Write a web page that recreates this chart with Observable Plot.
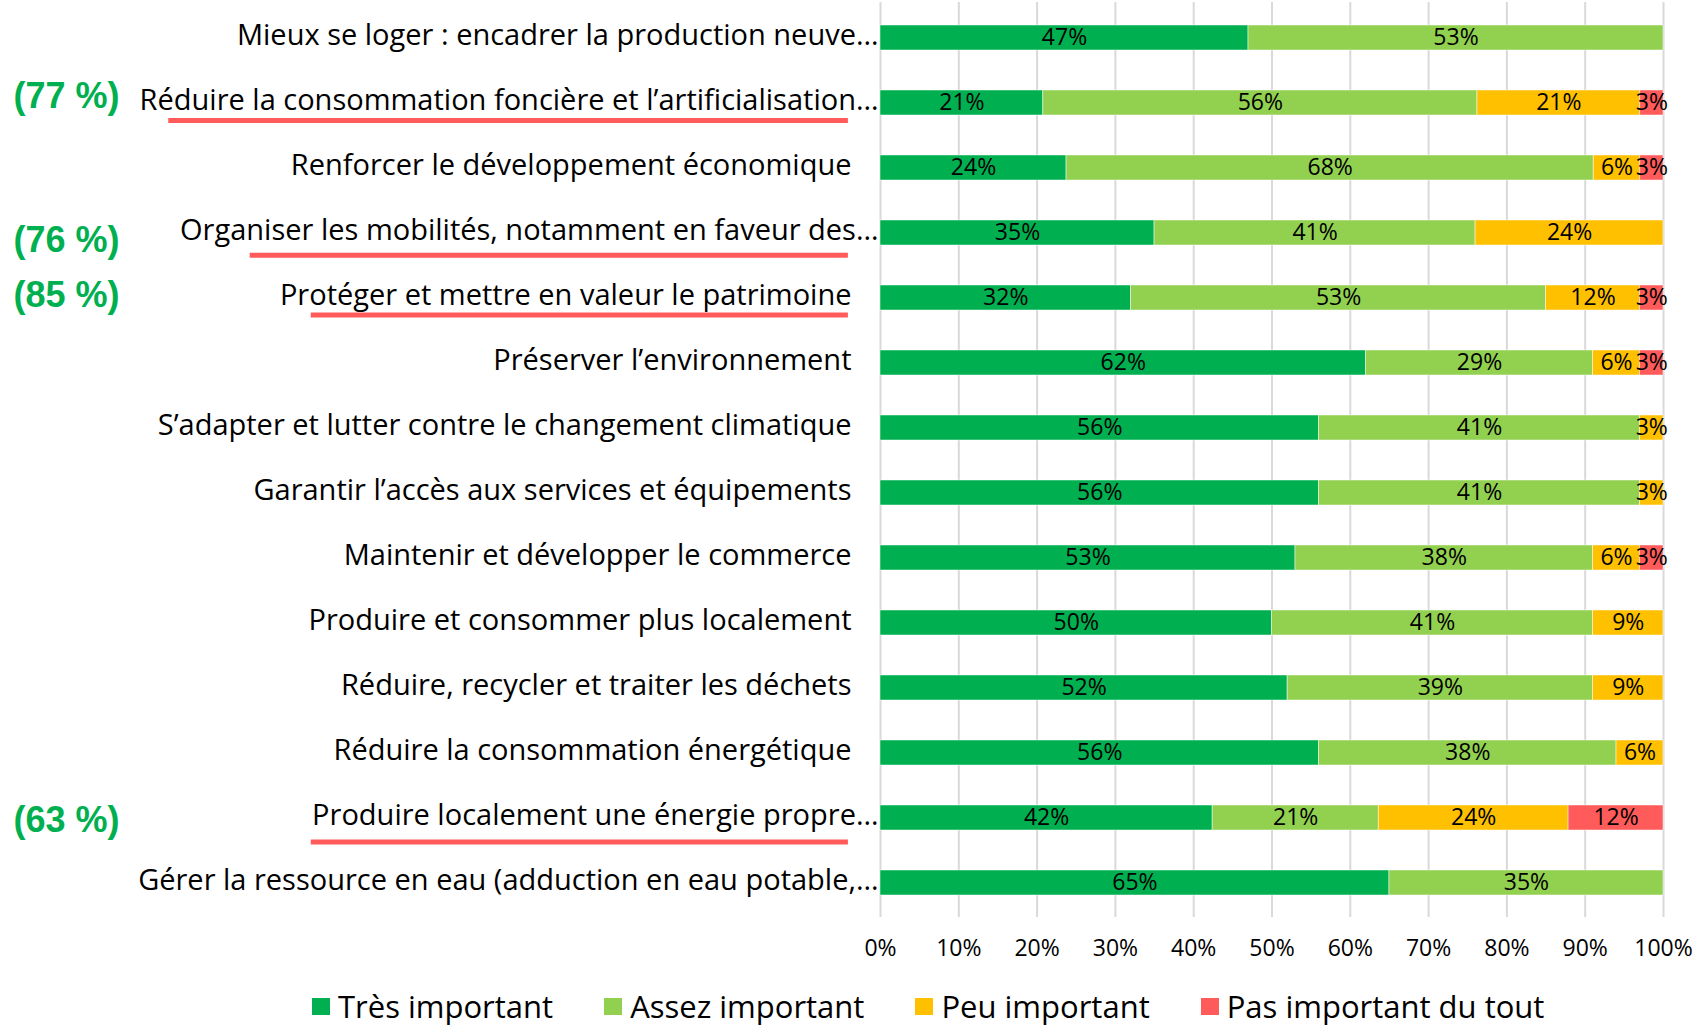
<!DOCTYPE html>
<html lang="fr">
<head>
<meta charset="utf-8">
<script src="https://cdn.jsdelivr.net/npm/d3@7"></script>
<script src="https://cdn.jsdelivr.net/npm/@observablehq/plot@0.6"></script>
<style>
  html, body { margin: 0; padding: 0; background: #fff; }
  #wrap { width: 1700px; height: 1030px; overflow: hidden; font-family: 'Open Sans', sans-serif; color: #000; }
  #legend { display: flex; align-items: center; padding-left: 312px; padding-top: 20px; font-size: 31px; line-height: 32px; }
  #legend .item { display: flex; align-items: center; margin-right: 51px; white-space: nowrap; }
  #legend .sw { width: 18px; height: 17px; margin-right: 8px; display: inline-block; }
</style>
</head>
<body>
<div id="wrap"><div id="chart"></div><div id="legend"></div></div>
<script>
// ---- data ----
const categories = [
  "Mieux se loger : encadrer la production neuve…",
  "Réduire la consommation foncière et l’artificialisation…",
  "Renforcer le développement économique",
  "Organiser les mobilités, notamment en faveur des…",
  "Protéger et mettre en valeur le patrimoine",
  "Préserver l’environnement",
  "S’adapter et lutter contre le changement climatique",
  "Garantir l’accès aux services et équipements",
  "Maintenir et développer le commerce",
  "Produire et consommer plus localement",
  "Réduire, recycler et traiter les déchets",
  "Réduire la consommation énergétique",
  "Produire localement une énergie propre…",
  "Gérer la ressource en eau (adduction en eau potable,…"
];
const levels = ["Très important", "Assez important", "Peu important", "Pas important du tout"];
const tresImportant  = [47, 21, 24, 35, 32, 62, 56, 56, 53, 50, 52, 56, 42, 65];
const assezImportant = [53, 56, 68, 41, 53, 29, 41, 41, 38, 41, 39, 38, 21, 35];
const peuImportant   = [ 0, 21,  6, 24, 12,  6,  3,  3,  6,  9,  9,  6, 24,  0];
const pasImportant   = [ 0,  3,  3,  0,  3,  3,  0,  0,  3,  0,  0,  0, 12,  0];
const xTicks = [0, 0.1, 0.2, 0.3, 0.4, 0.5, 0.6, 0.7, 0.8, 0.9, 1];

const annotatedCategories = [categories[1], categories[3], categories[4], categories[12]];
const annotationLabels = ["(77 %)", "(76 %)", "(85 %)", "(63 %)"];

// ---- long table built from the arrays ----
const series = [tresImportant, assezImportant, peuImportant, pasImportant];
const rows = [];
categories.forEach((c, i) => {
  levels.forEach((l, j) => {
    const v = series[j][i];
    if (v > 0) rows.push({category: c, level: l, value: v});
  });
});

// ---- styling / layout (not data) ----
const colors = ["#00B050", "#92D050", "#FFC000", "#FF5B5B"];
const underlineColor = "#FF5B5B";
const annotationLayout = [
  {dy: -7,  lineDy: 17.5, from: -0.909},
  {dy: 7,   lineDy: 22.3, from: -0.805},
  {dy: -2.5, lineDy: 17,  from: -0.727},
  {dy: 2.6, lineDy: 24,   from: -0.727}
];
const underlineTo = -0.041;

const annotationMarks = [];
annotatedCategories.forEach((c, i) => {
  const L = annotationLayout[i];
  annotationMarks.push(
    Plot.ruleY([c], {y: d => d, x1: () => L.from, x2: () => underlineTo, dy: L.lineDy,
      stroke: underlineColor, strokeWidth: 5}),
    Plot.text([annotationLabels[i]], {y: () => c, text: d => d, frameAnchor: "left", textAnchor: "start",
      dx: -867, dy: L.dy, fill: "#00B050", fontWeight: "bold", fontSize: 36,
      fontFamily: "'Liberation Sans', Arial, sans-serif"})
  );
});

const chart = Plot.plot({
  width: 1700,
  height: 970,
  marginLeft: 880,
  marginRight: 37,
  marginTop: 2,
  marginBottom: 53,
  style: {fontFamily: "'Open Sans', sans-serif", color: "#000", background: "#fff", overflow: "visible"},
  x: {domain: [0, 1], axis: null, label: null},
  y: {domain: categories, paddingInner: 0.617, paddingOuter: 0.3085, axis: null},
  color: {domain: levels, range: colors},
  marks: [
    Plot.gridX(xTicks, {stroke: "#D9D9D9", strokeOpacity: 1, strokeWidth: 2}),
    Plot.barX(rows, Plot.stackX({x: "value", y: "category", fill: "level", order: levels, offset: "normalize",
      stroke: "#fff", strokeWidth: 0.8, strokeOpacity: 0.6})),
    Plot.text(rows, Plot.stackX({x: "value", y: "category", z: "level", order: levels, offset: "normalize",
      text: d => d.value + "%", fontSize: 23, fill: "#000", dy: -0.5})),
    Plot.axisX(xTicks, {anchor: "bottom", label: null, tickFormat: d3.format(".0%"), tickSize: 0, tickPadding: 22, fontSize: 23}),
    Plot.text(categories.filter(c => c.endsWith("…")), {y: d => d, text: d => d, frameAnchor: "left",
      textAnchor: "end", dx: -2, dy: -2, fontSize: 29, fill: "#000"}),
    Plot.text(categories.filter(c => !c.endsWith("…")), {y: d => d, text: d => d, frameAnchor: "left",
      textAnchor: "end", dx: -29, dy: -2, fontSize: 29, fill: "#000"}),
    ...annotationMarks
  ]
});
document.getElementById("chart").appendChild(chart);

// ---- legend from the chart's color scale ----
const cs = chart.scale("color");
const legend = document.getElementById("legend");
cs.domain.forEach((d, i) => {
  const item = document.createElement("div");
  item.className = "item";
  const sw = document.createElement("span");
  sw.className = "sw";
  sw.style.background = cs.range[i];
  item.appendChild(sw);
  item.appendChild(document.createTextNode(d));
  legend.appendChild(item);
});
</script>
</body>
</html>
